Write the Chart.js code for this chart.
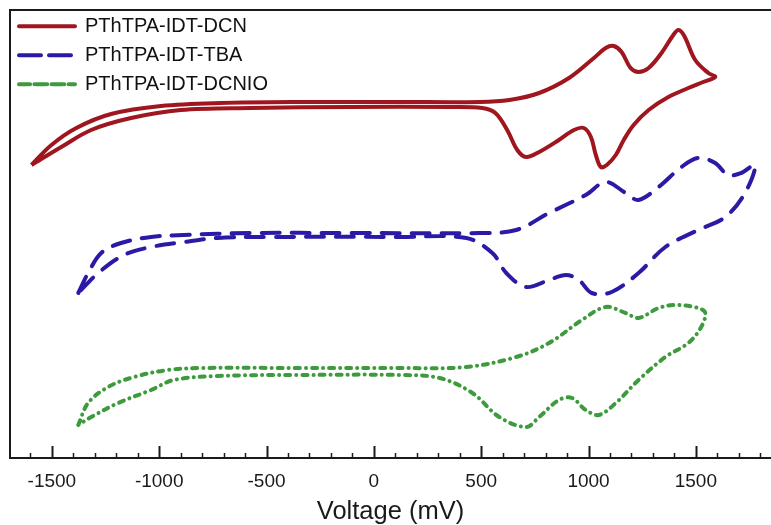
<!DOCTYPE html>
<html>
<head>
<meta charset="utf-8">
<script src="https://cdn.jsdelivr.net/npm/chart.js@4.4.1/dist/chart.umd.min.js"></script>
<style>
  html, body { margin: 0; padding: 0; background: #fff; }
  #wrap { width: 771px; height: 525px; }
</style>
</head>
<body>
<div id="wrap"><canvas id="cvChart" width="771" height="525"></canvas></div>
<script>
// cyclic voltammograms (current in arbitrary offset units)
const seriesNames = ['PThTPA-IDT-DCN', 'PThTPA-IDT-TBA', 'PThTPA-IDT-DCNIO'];
const xTickValues = [-1500, -1000, -500, 0, 500, 1000, 1500];

const dcnVolt = [-1595, -1502, -1386, -1224, -992, -714, -343, 121, 492, 631, 770, 909, 1025, 1080, 1117, 1154, 1196, 1233, 1280, 1340, 1395, 1419, 1446, 1497, 1558, 1590,
    1534, 1465, 1372, 1280, 1210, 1164, 1127, 1085, 1057, 1034, 1011, 978, 932, 862, 770, 709, 668, 621, 566, 505, 352, -111, -575, -899, -1131, -1317, -1456, -1595];
const dcnCurrent = [29.3, 31.3, 33.0, 34.4, 35.2, 35.5, 35.6, 35.6, 35.6, 35.8, 36.5, 38.0, 40.0, 41.0, 41.2, 40.6, 39.0, 38.6, 39.0, 40.5, 42.3, 42.8, 42.2, 39.8, 38.5, 38.1,
    37.6, 37.0, 36.1, 34.8, 33.3, 31.8, 30.3, 29.3, 29.1, 30.3, 32.1, 33.0, 32.8, 31.8, 30.6, 30.1, 30.8, 32.8, 34.5, 35.0, 35.1, 35.1, 35.0, 34.8, 34.0, 32.8, 31.1, 29.3];

const tbaVolt = [-1377, -1331, -1270, -1178, -1038, -885, -575, -111, 491, 663, 816, 987, 1080, 1173, 1233, 1326, 1433, 1511, 1590, 1650, 1711, 1776,
    1729, 1637, 1511, 1358, 1233, 1108, 1015, 955, 895, 816, 709, 617, 552, 431, 121, -496, -728, -885, -1038, -1164, -1284, -1377];
const tbaCurrent = [16.5, 18.5, 20.5, 21.5, 22.1, 22.3, 22.5, 22.5, 22.5, 22.8, 24.5, 26.3, 27.6, 26.5, 25.8, 27.1, 29.1, 30.0, 29.5, 28.3, 28.5, 29.3,
    26.5, 24.1, 22.8, 21.1, 18.5, 16.6, 16.5, 17.8, 18.3, 17.8, 17.1, 18.5, 20.5, 22.0, 22.1, 22.1, 22.0, 21.6, 21.1, 20.3, 18.5, 16.5];

const dcnioVolt = [-1377, -1331, -1238, -1117, -960, -807, -343, 121, 431, 663, 816, 969, 1080, 1173, 1233, 1326, 1405, 1511, 1544,
    1525, 1465, 1358, 1233, 1127, 1048, 987, 923, 862, 770, 709, 584, 459, 306, 121, -343, -728, -932, -1038, -1191, -1317, -1377];
const dcnioCurrent = [3.3, 5.5, 7.1, 8.1, 8.8, 9.0, 9.0, 9.0, 9.1, 10.1, 11.5, 13.8, 15.1, 14.5, 14.0, 15.0, 15.3, 15.0, 14.5,
    13.1, 11.5, 10.1, 7.8, 5.5, 4.3, 4.8, 6.0, 5.8, 4.1, 3.1, 4.1, 6.5, 8.0, 8.3, 8.3, 8.2, 7.8, 6.8, 5.5, 4.1, 3.3];

const xMin = -1695, xMax = 1850, xMajorStep = 500, xMinorStep = 100;
const fontFamily = 'Liberation Sans, Arial, sans-serif';

function toPoints(xs, ys) {
    return xs.map((v, i) => ({x: v, y: ys[i]}));
}

// ticks on the x axis point inward, major every 500, minor every 100
const innerTicks = {
    id: 'innerTicks',
    afterDraw(chart) {
        const sx = chart.scales.x;
        const ctx = chart.ctx;
        const bottom = chart.chartArea.bottom;
        ctx.save();
        ctx.strokeStyle = '#1a1a1a';
        for (let v = Math.ceil(xMin / xMinorStep) * xMinorStep; v <= xMax; v += xMinorStep) {
            const px = Math.round(sx.getPixelForValue(v)) + 0.5;
            const major = v % xMajorStep === 0;
            ctx.lineWidth = major ? 2 : 1.5;
            ctx.beginPath();
            ctx.moveTo(px, bottom);
            ctx.lineTo(px, bottom - (major ? 12 : 5));
            ctx.stroke();
        }
        ctx.restore();
    }
};

const lineBase = {
    showLine: true,
    pointRadius: 0,
    borderWidth: 4,
    tension: 0.35,
    borderCapStyle: 'round',
    borderJoinStyle: 'round',
    fill: false
};

var ctx = document.getElementById('cvChart').getContext('2d');
var cvChart = new Chart(ctx, {
    type: 'scatter',
    data: {
        datasets: [{
            ...lineBase,
            label: seriesNames[0],
            data: toPoints(dcnVolt, dcnCurrent),
            borderColor: '#a0161f',
            backgroundColor: '#a0161f',
            borderCapStyle: 'butt'
        }, {
            ...lineBase,
            label: seriesNames[1],
            data: toPoints(tbaVolt, tbaCurrent),
            borderColor: '#2b1aa6',
            backgroundColor: '#2b1aa6',
            borderDash: [18, 12]
        }, {
            ...lineBase,
            label: seriesNames[2],
            data: toPoints(dcnioVolt, dcnioCurrent),
            borderColor: '#3d9b3d',
            backgroundColor: '#3d9b3d',
            borderDash: [5, 6, 0.1, 6]
        }]
    },
    options: {
        responsive: false,
        animation: false,
        layout: {
            padding: {left: 10, top: 10, right: 0, bottom: 0}
        },
        plugins: {
            legend: {
                position: 'chartArea',
                align: 'start',
                title: {
                    display: true,
                    text: ' ',
                    font: {size: 1},
                    padding: {top: 0, bottom: 6}
                },
                labels: {
                    boxWidth: 56,
                    boxHeight: 0,
                    padding: 9,
                    color: '#111',
                    font: {family: fontFamily, size: 20}
                }
            },
            tooltip: false
        },
        scales: {
            x: {
                type: 'linear',
                position: 'bottom',
                min: xMin,
                max: xMax,
                afterBuildTicks: (scale) => {
                    scale.ticks = xTickValues.map(v => ({value: v}));
                },
                grid: {display: false, drawTicks: false},
                border: {display: true, color: '#1a1a1a', width: 2},
                ticks: {
                    autoSkip: false,
                    maxRotation: 0,
                    padding: 12.6,
                    color: '#1a1a1a',
                    font: {family: fontFamily, size: 19},
                    callback: (value) => String(value)
                },
                title: {
                    display: true,
                    text: 'Voltage (mV)',
                    color: '#1a1a1a',
                    padding: {top: -6.5, bottom: 0},
                    font: {family: fontFamily, size: 25.5, lineHeight: 1}
                }
            },
            xTop: {
                type: 'linear',
                position: 'top',
                min: xMin,
                max: xMax,
                grid: {display: false, drawTicks: false},
                border: {display: true, color: '#1a1a1a', width: 2},
                ticks: {display: false}
            },
            y: {
                type: 'linear',
                min: 0,
                max: 44.8,
                grid: {display: false, drawTicks: false},
                border: {display: true, color: '#1a1a1a', width: 2},
                ticks: {display: false}
            }
        }
    },
    plugins: [innerTicks]
});
</script>
</body>
</html>
